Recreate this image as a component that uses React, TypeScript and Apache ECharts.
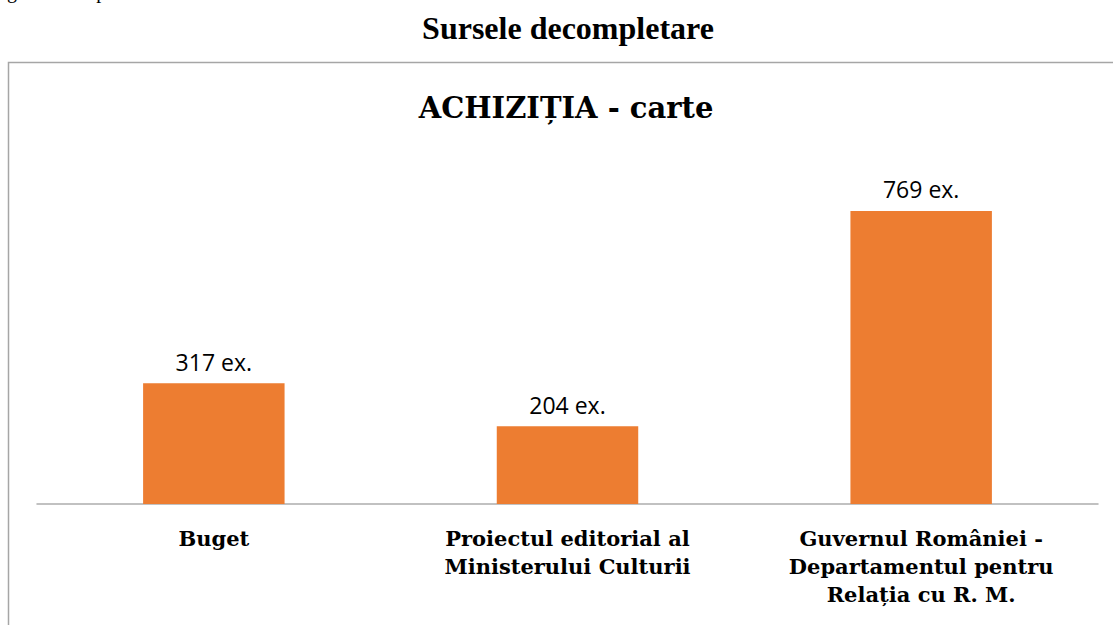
import React, { useEffect, useRef } from "react";
import * as echarts from "echarts";

const categories = [
  "Buget",
  "Proiectul editorial al\nMinisterului Culturii",
  "Guvernul României -\nDepartamentul pentru\nRelația cu R. M.",
];
const values = [317, 204, 769];
const labelSuffix = " ex.";
const pageTitle = "Sursele decompletare";
const chartTitle = "ACHIZIȚIA - carte";
const cutText = "Diagrama comparativă";

export default function App() {
  const ref = useRef<HTMLDivElement>(null);
  useEffect(() => {
    if (!ref.current) return;
    const chart = echarts.init(ref.current, null, { renderer: "svg" });
    chart.setOption({
      animation: false,
      backgroundColor: "#ffffff",
      graphic: [
        {
          type: "text",
          left: -22,
          top: -19,
          style: { text: cutText, font: "20px 'Liberation Serif'", fill: "#000" },
        },
        {
          type: "text",
          x: 568,
          y: 28,
          style: {
            text: pageTitle,
            font: "bold 32px 'Liberation Serif'",
            fill: "#000",
            align: "center",
            verticalAlign: "middle",
          },
        },
        {
          type: "rect",
          shape: { x: 8.5, y: 62.5, width: 1200, height: 700 },
          style: { fill: "none", stroke: "#a6a6a6", lineWidth: 1.5 },
        },
        {
          type: "text",
          x: 566,
          y: 108,
          style: {
            text: chartTitle,
            font: "bold 29px 'DejaVu Serif'",
            fill: "#000",
            align: "center",
            verticalAlign: "middle",
          },
        },
      ],
      grid: { left: 37, right: 15, top: 161, bottom: 121 },
      xAxis: {
        type: "category",
        data: categories,
        axisLine: { show: true, lineStyle: { color: "#adadad", width: 1.5 } },
        axisTick: { show: false },
        axisLabel: {
          interval: 0,
          margin: 20,
          fontFamily: "'DejaVu Serif'",
          fontWeight: "bold",
          fontSize: 21,
          lineHeight: 28,
          color: "#000",
          align: "center",
        },
      },
      yAxis: {
        type: "value",
        min: 0,
        max: 900,
        show: false,
        splitLine: { show: false },
      },
      series: [
        {
          type: "bar",
          data: values,
          barWidth: "40%",
          itemStyle: { color: "#ED7D31" },
          label: {
            show: true,
            position: "top",
            distance: 10,
            formatter: (p: any) => `${p.value}${labelSuffix}`,
            fontFamily: "'Open Sans'",
            fontSize: 23,
            color: "#000",
          },
        },
      ],
    });
    return () => chart.dispose();
  }, []);
  return (
    <div
      ref={ref}
      style={{ position: "absolute", left: 0, top: 0, width: 1113, height: 625 }}
    />
  );
}
